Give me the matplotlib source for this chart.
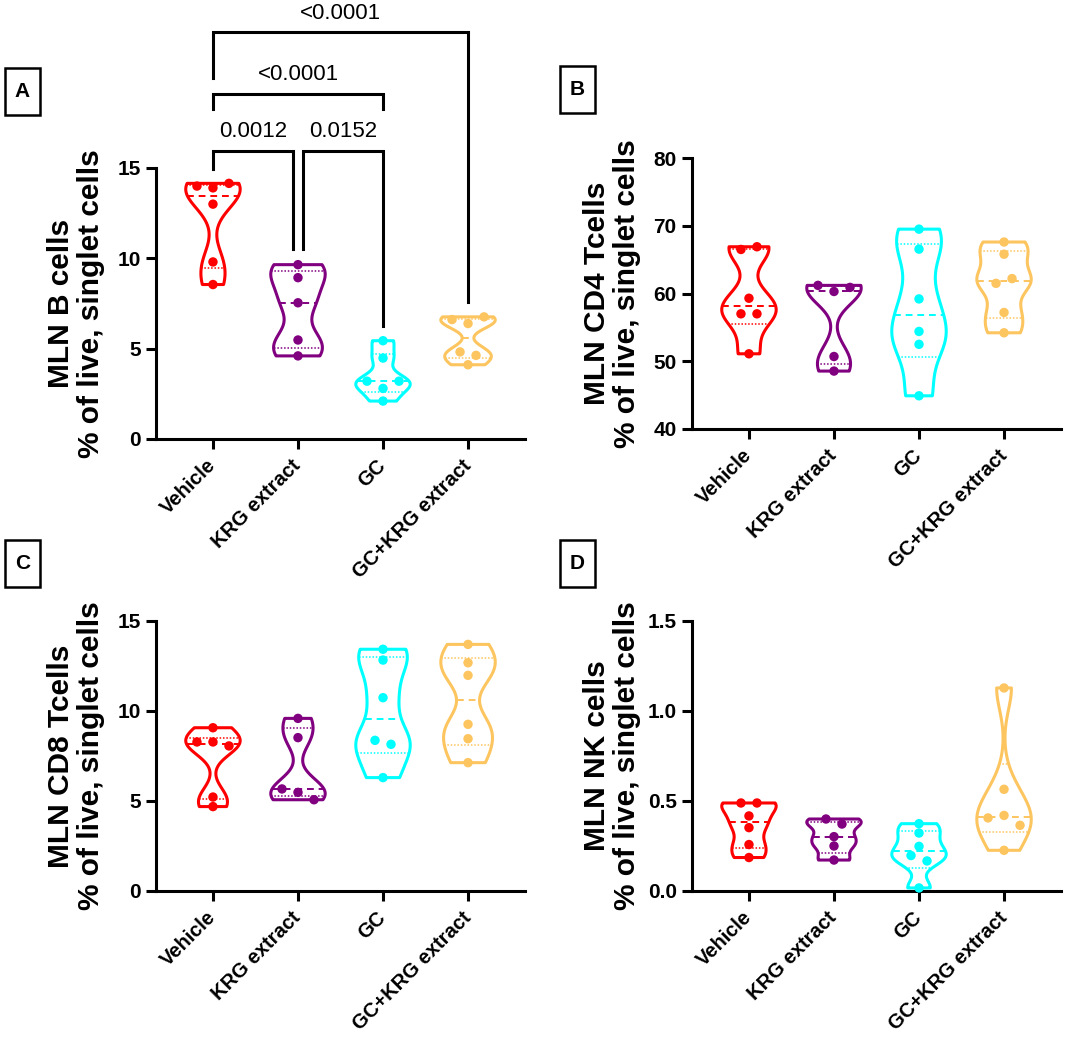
import numpy as np
import matplotlib
matplotlib.use('Agg')
import matplotlib.pyplot as plt
from matplotlib.patches import Rectangle

plt.rcParams['font.family'] = ['Liberation Sans', 'DejaVu Sans']

groups = ['Vehicle', 'KRG extract', 'GC', 'GC+KRG extract']
colors = ['#FF0000', '#800080', '#00FFFF', '#FDC560']

# values, one list per group
b_cells = [
    [14.0, 13.9, 14.15, 13.0, 9.8, 8.55],
    [9.65, 8.93, 7.54, 5.48, 4.6],
    [3.2, 2.8, 3.2, 5.44, 4.48, 2.1],
    [6.61, 6.39, 6.76, 4.82, 4.63, 4.11],
]
cd4_cells = [
    [66.5, 66.9, 59.3, 57.0, 57.0, 51.1],
    [61.2, 60.3, 60.9, 50.7, 48.55],
    [69.5, 66.55, 59.2, 54.4, 52.5, 44.9],
    [67.6, 65.8, 61.5, 62.2, 57.2, 54.2],
]
cd8_cells = [
    [9.07, 8.28, 8.28, 8.06, 5.22, 4.69],
    [9.59, 8.52, 5.67, 5.48, 5.07],
    [13.43, 12.83, 10.74, 8.37, 8.15, 6.3],
    [13.7, 12.68, 11.98, 9.26, 8.46, 7.13],
]
nk_cells = [
    [0.489, 0.489, 0.417, 0.352, 0.258, 0.186],
    [0.40, 0.372, 0.302, 0.25, 0.172],
    [0.374, 0.322, 0.248, 0.197, 0.167, 0.017],
    [1.128, 0.565, 0.406, 0.42, 0.365, 0.226],
]

# panel A multiple comparisons: group i, group j, p, bar level, leg ends
b_comparisons = [
    (0, 1, '0.0012', 15.94, 14.94, 10.5),
    (1, 2, '0.0152', 15.94, 10.5, 6.28),
    (0, 2, '<0.0001', 19.1, 18.28, 18.28),
    (0, 3, '<0.0001', 22.5, 20.0, 7.56),
]

W, H = 1065, 1038
fig = plt.figure(figsize=(W / 100, H / 100), dpi=100)


def px_axes(left, top, right, bottom):
    return fig.add_axes([left / W, 1 - bottom / H, (right - left) / W, (bottom - top) / H])


def swarm_offsets(ax, vals, step_px=16, thr_px=8):
    # spread points that would overlap, like Prism's scatter
    yp = ax.transData.transform(np.column_stack([np.zeros(len(vals)), vals]))[:, 1]
    xscale = ax.transData.transform([[1, 0]])[0, 0] - ax.transData.transform([[0, 0]])[0, 0]
    order = np.argsort(yp)
    clusters, cur = [], [order[0]]
    for a, b in zip(order[:-1], order[1:]):
        if abs(yp[b] - yp[a]) < thr_px:
            cur.append(b)
        else:
            clusters.append(cur)
            cur = [b]
    clusters.append(cur)
    offs = np.zeros(len(vals))
    for c in clusters:
        c = sorted(c)
        k = len(c)
        for n, idx in enumerate(c):
            offs[idx] = (n - (k - 1) / 2) * step_px / xscale
    return offs


def violin_panel(ax, data, ylim, yticks, ylabel, fmt='{:g}'):
    pos = np.arange(len(data))
    ax.set_xlim(-0.67, 3.67)
    ax.set_ylim(*ylim)
    parts = ax.violinplot(data, positions=pos, widths=0.64, showextrema=False,
                          bw_method=0.38, points=300)
    for i, body in enumerate(parts['bodies']):
        body.set_facecolor('none')
        body.set_edgecolor(colors[i])
        body.set_linewidth(2.2)
        body.set_alpha(1)
        body.set_clip_on(False)
        v = body.get_paths()[0].vertices
        right = v[v[:, 0] > pos[i]]
        srt = np.argsort(right[:, 1])
        ry, rx = right[srt, 1], right[srt, 0]
        q1, med, q3 = np.percentile(data[i], [25, 50, 75], method='weibull')
        for q, ls, lw in [(q1, (0, (1, 1.2)), 1.1), (med, (0, (3.5, 2.5)), 1.4), (q3, (0, (1, 1.2)), 1.1)]:
            hw = np.interp(q, ry, rx) - pos[i]
            ax.plot([pos[i] - hw, pos[i] + hw], [q, q], color=colors[i], lw=lw, ls=ls)
        offs = swarm_offsets(ax, data[i])
        ax.scatter(pos[i] + offs, data[i], s=46, color=colors[i], zorder=3,
                   edgecolors='none', clip_on=False)
    for s in ['top', 'right']:
        ax.spines[s].set_visible(False)
    for s in ['left', 'bottom']:
        ax.spines[s].set_linewidth(2.2)
    ax.set_yticks(yticks)
    ax.set_yticklabels([fmt.format(t) for t in yticks], fontsize=15, fontweight='bold')
    ax.set_xticks(pos)
    ax.set_xticklabels(groups, rotation=45, ha='right', va='center',
                       rotation_mode='anchor', fontsize=14.5, fontweight='bold')
    ax.tick_params(axis='both', length=7, width=2.2, pad=4)
    ax.tick_params(axis='x', pad=10)
    bb = ax.get_position()
    fig.text(bb.x0 - 80 / W, (bb.y0 + bb.y1) / 2, ylabel, rotation=90, ha='center',
             va='center', multialignment='center', fontsize=21.5, fontweight='bold',
             linespacing=1.08)


def panel_letter(letter, x0, y0, x1, y1):
    fig.patches.append(Rectangle((x0 / W, 1 - y1 / H), (x1 - x0) / W, (y1 - y0) / H,
                                 transform=fig.transFigure, fill=False, lw=1.8,
                                 edgecolor='black'))
    fig.text((x0 + x1) / 2 / W, 1 - (y0 + y1) / 2 / H, letter, ha='center', va='center',
             fontsize=15, fontweight='bold')


axA = px_axes(156, 168, 525, 439)
violin_panel(axA, b_cells, (0, 15), [0, 5, 10, 15], 'MLN B cells\n% of live, singlet cells')
axB = px_axes(692, 158, 1061, 429)
violin_panel(axB, cd4_cells, (40, 80), [40, 50, 60, 70, 80], 'MLN CD4 Tcells\n% of live, singlet cells')
axC = px_axes(156, 621, 525, 891)
violin_panel(axC, cd8_cells, (0, 15), [0, 5, 10, 15], 'MLN CD8 Tcells\n% of live, singlet cells')
axD = px_axes(692, 621, 1061, 891)
violin_panel(axD, nk_cells, (0, 1.5), [0, 0.5, 1.0, 1.5], 'MLN NK cells\n% of live, singlet cells',
             fmt='{:.1f}')

# brackets over panel A
xs = axA.transData.transform([[1, 0]])[0, 0] - axA.transData.transform([[0, 0]])[0, 0]
gap = 5 / xs
for i, j, p, bar, yi, yj in b_comparisons:
    xi, xj = float(i), float(j)
    for (a, b, _, bar2, _, _) in b_comparisons:
        if bar2 == bar and (a, b) != (i, j):
            if b == i:
                xi += gap
            if a == j:
                xj -= gap
    axA.plot([xi, xi, xj, xj], [yi, bar, bar, yj], color='black', lw=2.2, clip_on=False,
             solid_joinstyle='miter')
    axA.annotate(p, xy=((xi + xj) / 2, bar), xytext=(0, 14), textcoords='offset points',
                 ha='center', va='center', fontsize=16, annotation_clip=False)

panel_letter('A', 5, 68, 40, 115)
panel_letter('B', 560, 66, 595, 113)
panel_letter('C', 5, 540, 40, 587)
panel_letter('D', 560, 540, 595, 587)

fig.savefig('out.png', dpi=100, facecolor='white')
